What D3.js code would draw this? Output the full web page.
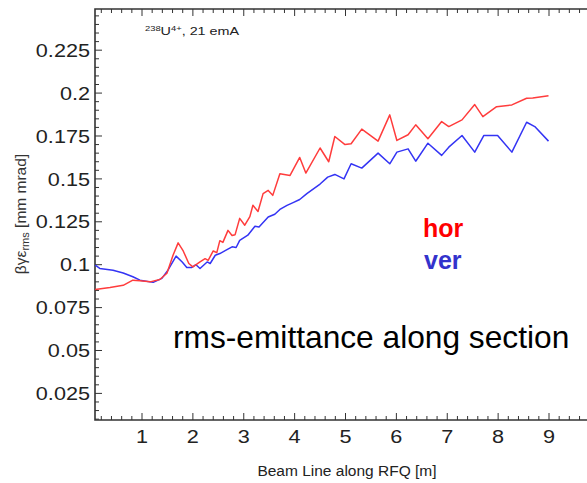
<!DOCTYPE html>
<html>
<head>
<meta charset="utf-8">
<script src="https://cdnjs.cloudflare.com/ajax/libs/d3/7.8.5/d3.min.js"></script>
<style>
  body { margin: 0; background: #fff; }
  svg text { font-family: "Liberation Sans", Arial, sans-serif; }
</style>
</head>
<body>
<div id="chart"></div>
<script>
// data: position along RFQ [m] and rms emittance [mm mrad]
var horPos = [0.08, 0.37, 0.63, 0.82, 0.96, 1.16, 1.35, 1.49, 1.61, 1.71, 1.81, 1.92, 2.00, 2.14, 2.24, 2.30,
  2.40, 2.47, 2.53, 2.59, 2.69, 2.77, 2.83, 2.92, 3.02, 3.12, 3.18, 3.28, 3.38, 3.48, 3.57, 3.71, 3.91,
  4.10, 4.22, 4.50, 4.67, 4.79, 4.99, 5.11, 5.32, 5.64, 5.87, 6.01, 6.23, 6.38, 6.62, 6.89, 7.03, 7.29,
  7.54, 7.70, 7.97, 8.27, 8.56, 8.68, 8.99];
var horEmit = [0.0856, 0.0867, 0.0880, 0.0910, 0.0906, 0.0900, 0.0914, 0.0950, 0.1055, 0.1127, 0.1080, 0.1007,
  0.0987, 0.1016, 0.1035, 0.1025, 0.1080, 0.1070, 0.1140, 0.1130, 0.1200, 0.1170, 0.1175, 0.1270, 0.1230,
  0.1280, 0.1346, 0.1310, 0.1414, 0.1433, 0.1404, 0.1530, 0.1520, 0.1625, 0.1534, 0.1680, 0.1600, 0.1747,
  0.1700, 0.1705, 0.1790, 0.1720, 0.1873, 0.1724, 0.1757, 0.1815, 0.1734, 0.1834, 0.1805, 0.1844, 0.1933,
  0.1863, 0.1921, 0.1931, 0.1970, 0.1972, 0.1985];

var verPos = [0.08, 0.17, 0.43, 0.63, 0.82, 0.96, 1.22, 1.39, 1.51, 1.67, 1.79, 1.88, 1.98, 2.06, 2.14, 2.28,
  2.34, 2.44, 2.53, 2.67, 2.77, 2.85, 2.92, 3.08, 3.22, 3.30, 3.48, 3.61, 3.71, 3.85, 3.97, 4.10, 4.24,
  4.50, 4.65, 4.79, 4.97, 5.11, 5.32, 5.64, 5.87, 6.01, 6.23, 6.38, 6.62, 6.89, 7.03, 7.29, 7.54, 7.72,
  7.99, 8.27, 8.56, 8.72, 8.99];
var verEmit = [0.0997, 0.0978, 0.0968, 0.0952, 0.0930, 0.0910, 0.0897, 0.0920, 0.0968, 0.1050, 0.1016, 0.0984,
  0.0984, 0.1000, 0.0978, 0.1016, 0.1007, 0.1055, 0.1065, 0.1088, 0.1104, 0.1100, 0.1142, 0.1172, 0.1224,
  0.1220, 0.1278, 0.1294, 0.1322, 0.1346, 0.1362, 0.1380, 0.1414, 0.1470, 0.1510, 0.1526, 0.1500, 0.1588,
  0.1563, 0.1650, 0.1588, 0.1656, 0.1675, 0.1603, 0.1708, 0.1637, 0.1685, 0.1753, 0.1656, 0.1753, 0.1753,
  0.1656, 0.1830, 0.1805, 0.1720];

var xTicks = [1, 2, 3, 4, 5, 6, 7, 8, 9];
var yTicks = [0.025, 0.05, 0.075, 0.1, 0.125, 0.15, 0.175, 0.2, 0.225];
var yTickLabels = ["0.025", "0.05", "0.075", "0.1", "0.125", "0.15", "0.175", "0.2", "0.225"];

// 1: svg
var W = 587, H = 483;
var svg = d3.select("#chart").append("svg")
    .attr("width", W)
    .attr("height", H);

// 2: scales (frame runs off the right side of the picture)
var plotLeft = 95, plotTop = 9, plotBottom = 420;
var x = d3.scaleLinear().domain([0.076, 10]).range([plotLeft, plotLeft + 9.924 * 50.875]);
var y = d3.scaleLinear().domain([0.0095, 0.249]).range([plotBottom, plotTop]);
var plotRight = x(10);

// 3: ticks
var xMinor = d3.range(0.2, 10.001, 0.2).filter(function(d) { return x(d) > plotLeft + 1; });
var yMinor = d3.range(0.01, 0.2491, 0.005);

var tickColor = "#333";
var g = svg.append("g");

function isMajor(v, step) { return Math.abs(v / step - Math.round(v / step)) < 1e-6; }

// bottom (pointing up) and top (pointing down)
g.selectAll("line.xb").data(xMinor).enter().append("line")
    .attr("x1", function(d) { return x(d); }).attr("x2", function(d) { return x(d); })
    .attr("y1", plotBottom).attr("y2", function(d) { return plotBottom - (isMajor(d, 1) ? 7 : 4); })
    .attr("stroke", tickColor).attr("stroke-width", 1);
g.selectAll("line.xt").data(xMinor).enter().append("line")
    .attr("x1", function(d) { return x(d); }).attr("x2", function(d) { return x(d); })
    .attr("y1", plotTop).attr("y2", function(d) { return plotTop + (isMajor(d, 1) ? 7 : 4); })
    .attr("stroke", tickColor).attr("stroke-width", 1);
// left (pointing right)
g.selectAll("line.yl").data(yMinor).enter().append("line")
    .attr("x1", plotLeft).attr("x2", function(d) { return plotLeft + (isMajor(d, 0.025) ? 7 : 4); })
    .attr("y1", function(d) { return y(d); }).attr("y2", function(d) { return y(d); })
    .attr("stroke", tickColor).attr("stroke-width", 1);

// frame
g.append("path")
    .attr("d", "M" + plotRight + "," + plotTop + "H" + plotLeft + "V" + plotBottom + "H" + plotRight)
    .attr("fill", "none")
    .attr("stroke", "#333")
    .attr("stroke-width", 1.6);

// 4: tick labels (plot font is a bit wide, stretch horizontally)
svg.selectAll("text.yl").data(yTicks).enter().append("text")
    .attr("transform", function(d) { return "translate(90," + (y(d) + 6.7) + ") scale(1.14,1)"; })
    .attr("text-anchor", "end")
    .attr("font-size", 19)
    .attr("fill", "#222")
    .text(function(d, i) { return yTickLabels[i]; });

svg.selectAll("text.xl").data(xTicks).enter().append("text")
    .attr("transform", function(d) { return "translate(" + x(d) + ",443) scale(1.14,1)"; })
    .attr("text-anchor", "middle")
    .attr("font-size", 19)
    .attr("fill", "#222")
    .text(function(d) { return d; });

// 5: axis titles
svg.append("text")
    .attr("x", 347).attr("y", 476)
    .attr("text-anchor", "middle")
    .attr("font-size", 15.5)
    .attr("fill", "#222")
    .text("Beam Line along RFQ [m]");

var ylab = svg.append("text")
    .attr("transform", "translate(26,214) rotate(-90)")
    .attr("text-anchor", "middle")
    .attr("font-size", 15.5)
    .attr("fill", "#333");
ylab.append("tspan").text("βγε");
ylab.append("tspan").attr("font-size", 11).attr("dy", 3).text("rms");
ylab.append("tspan").attr("dy", -3).text(" [mm mrad]");

// 6: lines
var line = d3.line()
    .x(function(d) { return x(d[0]); })
    .y(function(d) { return y(d[1]); });

var hor = horPos.map(function(p, i) { return [p, horEmit[i]]; });
var ver = verPos.map(function(p, i) { return [p, verEmit[i]]; });

svg.append("path").datum(ver)
    .attr("d", line)
    .attr("fill", "none")
    .attr("stroke", "#3434f4")
    .attr("stroke-width", 1.5)
    .attr("stroke-linejoin", "round");
svg.append("path").datum(hor)
    .attr("d", line)
    .attr("fill", "none")
    .attr("stroke", "#ff3c3c")
    .attr("stroke-width", 1.5)
    .attr("stroke-linejoin", "round");

// 7: annotations
var ion = svg.append("text")
    .attr("transform", "translate(145,35) scale(1.25,1)")
    .attr("font-size", 11.5)
    .attr("fill", "#222");
ion.append("tspan").attr("font-size", 7.5).attr("dy", -4).text("238");
ion.append("tspan").attr("dy", 4).text("U");
ion.append("tspan").attr("font-size", 7.5).attr("dy", -4).text("4+");
ion.append("tspan").attr("dy", 4).text(", 21 emA");

svg.append("text")
    .attr("x", 423).attr("y", 237)
    .attr("font-size", 25).attr("font-weight", "bold")
    .attr("fill", "#ff0000")
    .text("hor");
svg.append("text")
    .attr("x", 424).attr("y", 269)
    .attr("font-size", 25).attr("font-weight", "bold")
    .attr("fill", "#3333cc")
    .text("ver");

svg.append("text")
    .attr("x", 173).attr("y", 348)
    .attr("font-size", 31.7)
    .attr("fill", "#000")
    .text("rms-emittance along section");
</script>
</body>
</html>
